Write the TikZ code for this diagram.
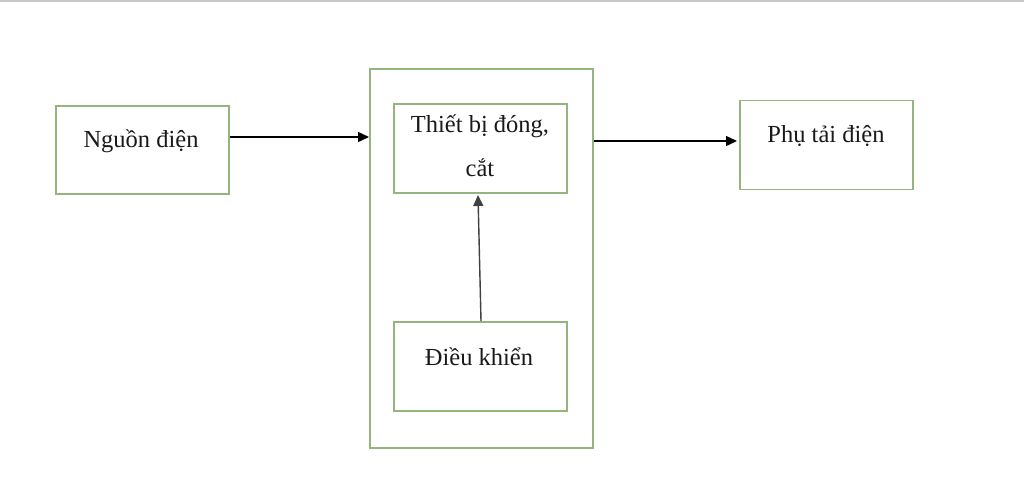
\documentclass[tikz,border=0pt]{standalone}
\usepackage{fontspec}
\setmainfont{Liberation Serif}
\usetikzlibrary{arrows.meta}
\definecolor{boxgreen}{RGB}{150,180,125}
\definecolor{topgray}{RGB}{200,200,200}
\tikzset{
  blk/.style={draw=boxgreen, line width=1.5pt, inner sep=0pt, anchor=north west},
  lbl/.style={font=\fontsize{24.5}{29}\selectfont, inner sep=0pt, text=black!90},
  conn/.style={draw=black, line width=1.4pt, -{Triangle[length=11pt,width=10pt]}}
}
\begin{document}
\begin{tikzpicture}[x=1pt,y=-1pt]
\useasboundingbox (0,0) rectangle (1024,483);
\fill[white] (0,0) rectangle (1024,483);
\draw[topgray, line width=2pt] (0,0.8) -- (1024,0.8);
% boxes
\node[blk, minimum width=173pt, minimum height=88pt] (src) at (55,105) {};
\node[blk, minimum width=223pt, minimum height=379pt] (outer) at (369,68) {};
\node[blk, minimum width=173pt, minimum height=89pt] (sw) at (393,103) {};
\node[blk, minimum width=173pt, minimum height=89pt] (ctl) at (393,321) {};
\node[blk, minimum width=173pt, minimum height=89pt] (load) at (739,99.5) {};
% texts
\node[lbl] (tsrc) at (141,141) {Nguồn điện};
\node[lbl] (tsw1) at (480,126) {Thiết bị đóng,};
\node[lbl] (tsw2) at (480,168) {cắt};
\node[lbl] (tctl) at (479,357) {Điều khiển};
\node[lbl] (tload) at (826,136) {Phụ tải điện};
% connectors
\coordinate (a1s) at (src.east |- 0,137);
\coordinate (a1e) at (outer.west |- 0,137);
\draw[conn] (a1s) -- (a1e);
\coordinate (a2s) at (outer.east |- 0,141);
\coordinate (a2e) at (load.west |- 0,141);
\draw[conn, shorten >=2pt] (a2s) -- (a2e);
\coordinate (a3s) at (481,321);
\coordinate (a3e) at (478,195);
\draw[conn, draw=black!75, fill=black] (ctl.north -| a3s) -- (a3e);
\end{tikzpicture}
\end{document}
